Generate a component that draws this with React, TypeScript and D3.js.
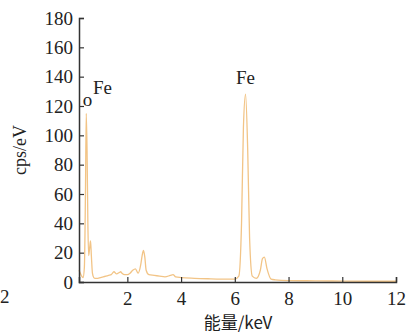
import {useEffect, useRef} from "react";
import * as d3 from "d3";

// energy (keV) and counts (cps/eV)
const energy = [0.2, 0.25, 0.3, 0.35, 0.4, 0.44, 0.47, 0.5, 0.53, 0.56, 0.6, 0.63, 0.66, 0.7, 0.75, 0.8, 0.9, 1.0, 1.1, 1.2, 1.3, 1.4, 1.5, 1.6, 1.7, 1.75, 1.8, 1.9, 2.0, 2.1, 2.2, 2.3, 2.4, 2.5, 2.55, 2.6, 2.65, 2.7, 2.8, 3.0, 3.2, 3.4, 3.6, 3.7, 3.8, 4.0, 4.5, 5.0, 5.5, 6.0, 6.15, 6.25, 6.32, 6.4, 6.48, 6.55, 6.65, 6.8, 6.95, 7.03, 7.1, 7.2, 7.35, 7.5, 8.0, 9.0, 10.0, 11.0, 12.0];
const counts = [8, 6, 4, 3, 10, 60, 115, 90, 40, 18, 24, 28, 18, 6, 3, 2.5, 2.5, 3, 3.5, 4, 4.5, 5, 7, 5.5, 6.5, 7, 6, 5, 5, 6, 8, 9, 6, 12, 18, 21.5, 17, 8, 5, 4.5, 4, 3.5, 4.5, 5, 3.5, 3, 2.5, 2.2, 2, 2, 4, 40, 105, 128, 90, 30, 4, 2.5, 8, 16, 17, 9, 2, 1.5, 1, 0.8, 0.6, 0.5, 0.5];
const xTicks = [2, 4, 6, 8, 10, 12];
const yTicks = [0, 20, 40, 60, 80, 100, 120, 140, 160, 180];
const peakLabels = [
    {text: "o", e: 0.52, v: 120, anchor: "middle"},
    {text: "Fe", e: 0.72, v: 128, anchor: "start"},
    {text: "Fe", e: 6.4, v: 135, anchor: "middle"},
];

const App = () => {
    const ref = useRef(null);

    useEffect(() => {
        const width = 407, height = 335;
        const svg = d3.select(ref.current).attr("width", width).attr("height", height);
        svg.selectAll("*").remove();

        const x = d3.scaleLinear().domain([0.2, 12]).range([79, 396]);
        const y = d3.scaleLinear().domain([0, 180]).range([282, 18]);
        const font = "\"Liberation Serif\", \"DejaVu Serif\", \"Times New Roman\", serif";
        const axisColor = "#333";

        const line = d3.line<number>()
            .x((d, i) => x(energy[i]))
            .y((d) => y(d))
            .curve(d3.curveMonotoneX);

        svg.append("path")
            .datum(counts)
            .attr("d", line)
            .attr("fill", "none")
            .attr("stroke", "#f2c486")
            .attr("stroke-width", 1.3);

        // axes
        const xAxis = svg.append("g")
            .attr("transform", `translate(0,${y(0)})`)
            .call(d3.axisBottom(x).tickValues(xTicks).tickSize(-5).tickPadding(10).tickSizeOuter(-5));
        const yAxis = svg.append("g")
            .attr("transform", `translate(${x(0.2)},0)`)
            .call(d3.axisLeft(y).tickValues(yTicks).tickSize(-5).tickPadding(6).tickSizeOuter(-5));

        [xAxis, yAxis].forEach((g) => {
            g.attr("font-family", null);
            g.select(".domain").attr("stroke", axisColor).attr("stroke-width", 1.5);
            g.selectAll(".tick line").attr("stroke", axisColor).attr("stroke-width", 1.2);
            g.selectAll(".tick text")
                .attr("fill", "#222")
                .attr("font-family", font)
                .attr("font-size", 19);
        });
        xAxis.selectAll(".tick text").attr("dy", "0.71em");

        // stray "2" at the left edge
        svg.append("text")
            .attr("x", 0)
            .attr("y", 303)
            .attr("fill", "#222")
            .attr("font-family", font)
            .attr("font-size", 19)
            .text("2");

        svg.selectAll(".peak")
            .data(peakLabels)
            .enter()
            .append("text")
            .attr("class", "peak")
            .attr("x", (d) => x(d.e))
            .attr("y", (d) => y(d.v))
            .attr("text-anchor", (d) => d.anchor)
            .attr("fill", "#222")
            .attr("font-family", font)
            .attr("font-size", 19)
            .text((d) => d.text);

        svg.append("text")
            .attr("transform", "translate(26,150) rotate(-90)")
            .attr("text-anchor", "middle")
            .attr("fill", "#222")
            .attr("font-family", font)
            .attr("font-size", 18)
            .text("cps/eV");

        svg.append("text")
            .attr("x", 238)
            .attr("y", 329)
            .attr("text-anchor", "middle")
            .attr("fill", "#222")
            .attr("font-family", "\"Noto Sans CJK SC\", " + font)
            .attr("font-size", 17)
            .text("能量/keV");
    }, []);

    return (
        <div style={{position: "absolute", left: 0, top: 0}}>
            <svg ref={ref}></svg>
        </div>
    );
};

export default App;
